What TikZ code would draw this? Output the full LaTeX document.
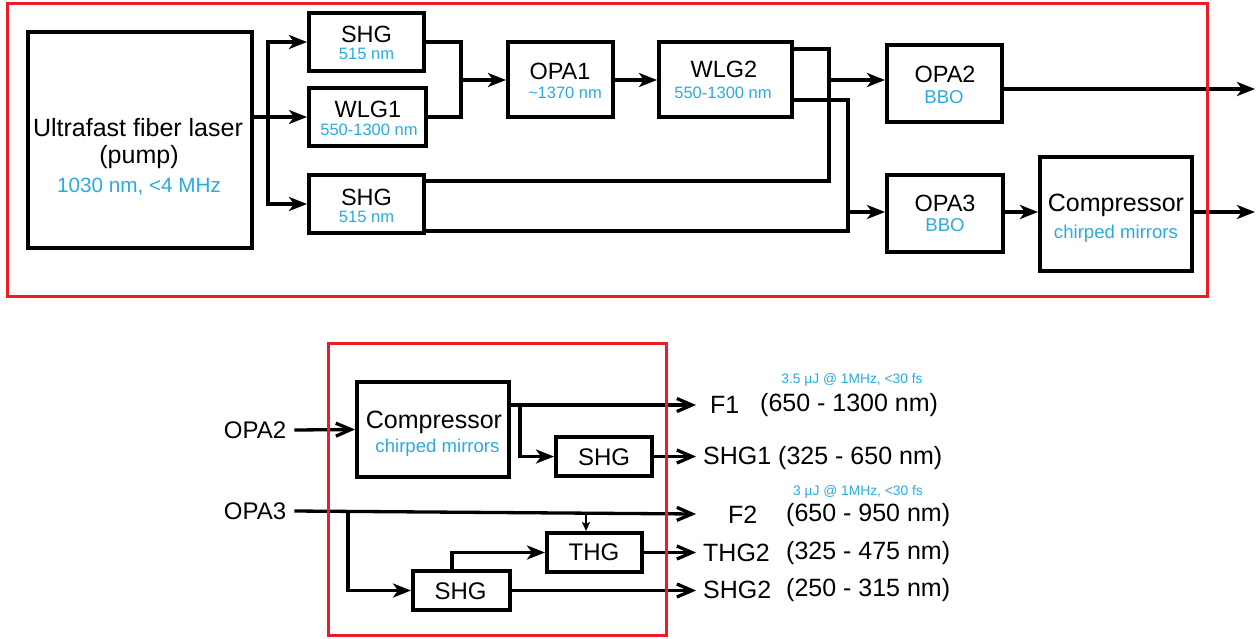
\documentclass[tikz,border=0pt]{standalone}
\usepackage{fontspec}
\setmainfont{Liberation Sans}
\usetikzlibrary{arrows.meta,calc}
\definecolor{txtblue}{RGB}{41,171,226}
\definecolor{frred}{RGB}{237,28,36}
\tikzset{
  box/.style={draw, line width=4pt, inner sep=0pt, minimum width=#1},
  lbl/.style={inner sep=0pt, font=\fontsize{23.5}{28}\selectfont},
  lblb/.style={inner sep=0pt, font=\fontsize{24}{28}\selectfont},
  lblc/.style={inner sep=0pt, font=\fontsize{25}{30}\selectfont},
  sub/.style={inner sep=0pt, text=txtblue, font=\fontsize{16.5}{20}\selectfont},
  subc/.style={inner sep=0pt, text=txtblue, font=\fontsize{18.6}{22}\selectfont},
  tiny/.style={inner sep=0pt, text=txtblue, font=\fontsize{13.8}{16}\selectfont},
  ln/.style={line width=3.3pt},
  arr/.style={line width=3.3pt, -{Stealth[length=18pt,width=14pt,inset=5pt]}},
  oarr/.style={line width=3.3pt, -{Straight Barb[length=15pt,width=13pt]}},
  sarr/.style={line width=2pt, -{Stealth[length=9pt,width=8pt,inset=2pt]}},
  frame/.style={draw=frred, line width=3pt}
}
\begin{document}
\begin{tikzpicture}[x=1pt,y=-1pt]
\useasboundingbox (0,0) rectangle (1259,638);

% ---------- top diagram boxes ----------
\node[box=224pt, minimum height=216pt] (laser) at (140,140) {};
\node[lblc] (laserA) at (138,128) {Ultrafast fiber laser};
\node[lblc] (laserB) at (139,157) {(pump)};
\node[inner sep=0pt, text=txtblue, font=\fontsize{20.7}{24}\selectfont] (laserC) at (139,187) {1030 nm, <4 MHz};

\node[box=115pt, minimum height=58pt] (shg1) at (366.5,42) {};
\node[lbl] (shg1a) at (366.5,34) {SHG};
\node[sub] (shg1b) at (366.5,54) {515 nm};

\node[box=117pt, minimum height=58pt] (wlg1) at (367.5,117) {};
\node[lbl] (wlg1a) at (368,109) {WLG1};
\node[sub] (wlg1b) at (369,130) {550-1300 nm};

\node[box=115pt, minimum height=58pt] (shg2) at (366.5,204) {};
\node[lbl] (shg2a) at (366.5,197) {SHG};
\node[sub] (shg2b) at (366.5,217) {515 nm};

\node[box=105pt, minimum height=75pt] (opa1) at (560.5,79.5) {};
\node[lbl] (opa1a) at (560,71) {OPA1};
\node[sub] (opa1b) at (565,93) {\textasciitilde1370 nm};

\node[box=133pt, minimum height=75pt] (wlg2) at (725.5,79.5) {};
\node[lbl] (wlg2a) at (724,69) {WLG2};
\node[sub] (wlg2b) at (723,93) {550-1300 nm};

\node[box=115pt, minimum height=77pt] (opa2) at (944.5,83.5) {};
\node[lbl] (opa2a) at (945,74) {OPA2};
\node[subc] (opa2b) at (944,97) {BBO};

\node[box=116pt, minimum height=77pt] (opa3) at (945,213.5) {};
\node[lbl] (opa3a) at (945,203) {OPA3};
\node[subc] (opa3b) at (945,225) {BBO};

\node[box=152pt, minimum height=114pt] (comp1) at (1116,214) {};
\node[lblc] (comp1a) at (1116,205) {Compressor};
\node[subc] (comp1b) at (1116,234) {chirped mirrors};

% ---------- top connectors ----------
\coordinate (br) at (268,117);
\coordinate (m1) at (461,80);
\coordinate (ja) at (829,80);
\coordinate (jb) at (848,212);
\coordinate (out2) at (1255,89);
\coordinate (out3) at (1255,212);

\draw[arr] (laser.east |- br) -- (br -| wlg1.west);
\draw[arr] (br |- shg2.west) |- (shg1.west);
\draw[arr] (br) |- (shg2.west);

\draw[ln] (shg1.east) -| (m1 |- wlg1.east) -- (wlg1.east);
\draw[arr] (m1) -- (m1 -| opa1.west);
\draw[arr] (opa1.east |- m1) -- (m1 -| wlg2.west);

\draw[ln] ($(wlg2.north east)+(0,9)$) -| (ja) |- ($(shg2.north east)+(0,8)$);
\draw[arr] (ja) -- (ja -| opa2.west);
\draw[ln] ($(wlg2.south east)+(0,-19)$) -| (jb) |- ($(shg2.south east)+(0,-4)$);
\draw[arr] (jb) -- (jb -| opa3.west);

\draw[arr] (opa2.east |- out2) -- (out2);
\draw[arr] (opa3.east |- jb) -- (jb -| comp1.west);
\draw[arr] (comp1.east |- out3) -- (out3);

% ---------- bottom diagram ----------
\node[lblb] (op2lab) at (255,430) {OPA2};
\node[lblb] (op3lab) at (255,511) {OPA3};

\node[box=152pt, minimum height=95pt] (comp2) at (433,429.5) {};
\node[lblc] (comp2a) at (434,422) {Compressor};
\node[subc] (comp2b) at (437.5,448) {chirped mirrors};

\node[box=96pt, minimum height=39pt] (shg3) at (604,456.5) {};
\node[lblb] (shg3a) at (604,457) {SHG};

\node[box=95pt, minimum height=39pt] (thg) at (594.5,552.5) {};
\node[lblb] (thga) at (594,552) {THG};

\node[box=97pt, minimum height=39pt] (shg4) at (461.5,590.5) {};
\node[lblb] (shg4a) at (460.5,591) {SHG};

\coordinate (e1) at (696,405);
\coordinate (e2) at (696,514);
\coordinate (j1) at (520,405);
\coordinate (j2) at (348,513);
\coordinate (j3) at (586,514);
\coordinate (j4) at (452,552);

\draw[oarr] ([xshift=8pt]op2lab.east) -- (comp2.west);
\draw[oarr] (comp2.east |- e1) -- (e1);
\draw[arr] (j1) |- (shg3.west);
\draw[oarr] (shg3.east) -- (shg3.east -| e1);

\draw[oarr] ([xshift=8pt]op3lab.east) -- (e2);
\draw[arr] (j2) |- (shg4.west);
\draw[sarr] (j3) -- (j3 |- thg.north);
\draw[arr] (j4 |- shg4.north) |- (thg.west);
\draw[oarr] (thg.east) -- (thg.east -| e1);
\draw[oarr] (shg4.east) -- (shg4.east -| e1);

% output labels
\node[tiny] (f1info) at (852,380) {3.5 µJ @ 1MHz, <30 fs};
\node[lblc, anchor=west] (f1a) at (710,405) {F1};
\node[lblc, anchor=west] (f1b) at (760,405) {(650 - 1300 nm)};
\node[lblc, anchor=west] (s1a) at (703,458) {SHG1 (325 - 650 nm)};
\node[tiny] (f2info) at (858,492) {3 µJ @ 1MHz, <30 fs};
\node[lblc, anchor=west] (f2a) at (728,515) {F2};
\node[lblc, anchor=west] (f2b) at (786,515) {(650 - 950 nm)};
\node[lblc, anchor=west] (t2a) at (703,553) {THG2};
\node[lblc, anchor=west] (t2b) at (786,553) {(325 - 475 nm)};
\node[lblc, anchor=west] (s2a) at (703,590) {SHG2};
\node[lblc, anchor=west] (s2b) at (786,590) {(250 - 315 nm)};

% ---------- red frames ----------
\draw[frame] (7,3) rectangle (1207,296);
\draw[frame] (328,343) rectangle (666,635);
\end{tikzpicture}
\end{document}
